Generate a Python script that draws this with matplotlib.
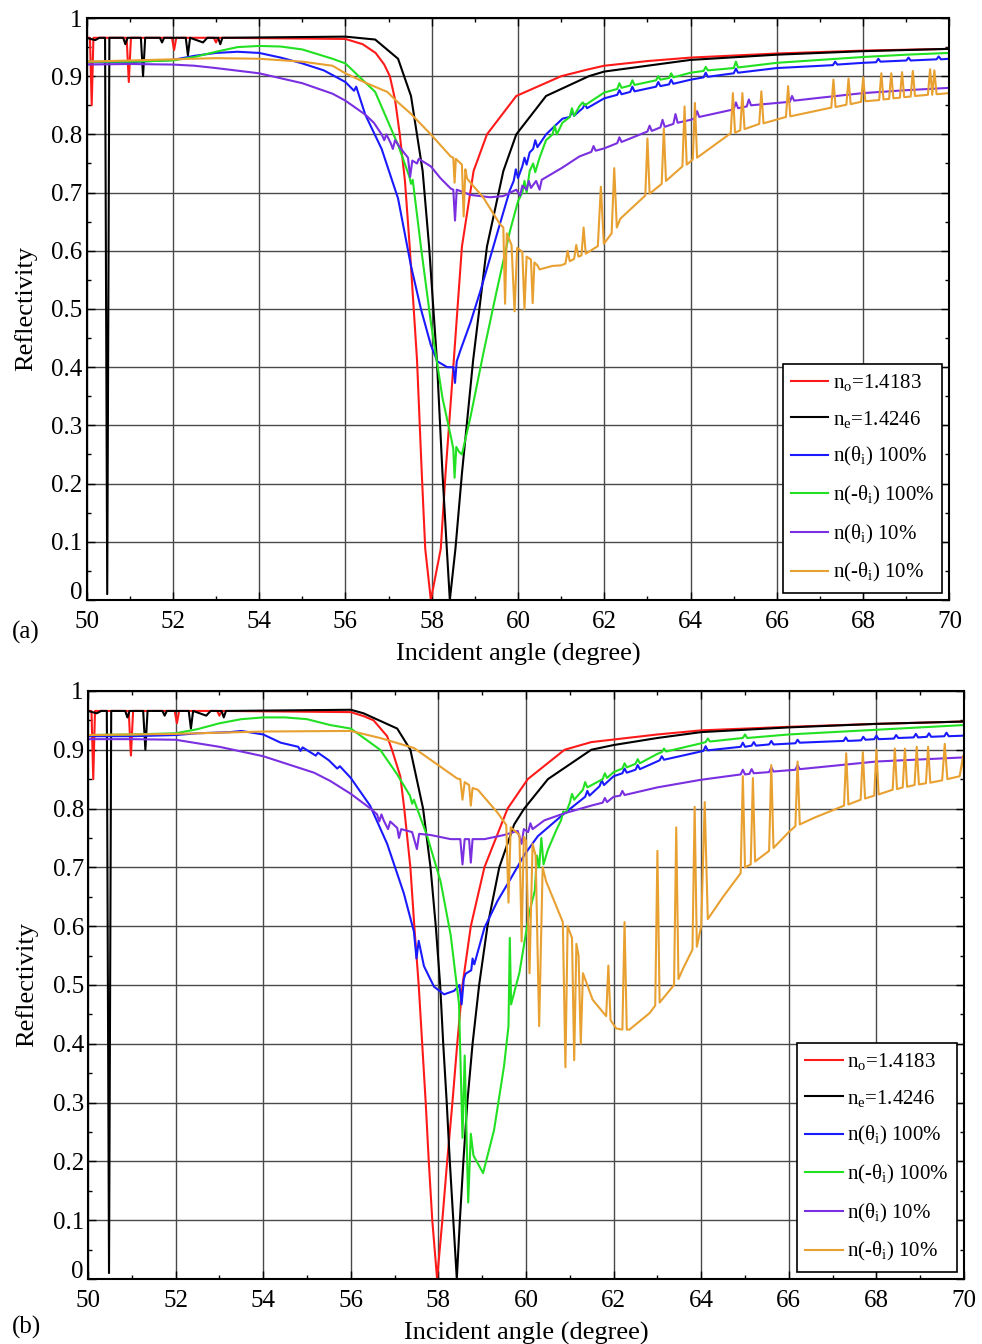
import numpy as np
import matplotlib
matplotlib.use("Agg")
import matplotlib.pyplot as plt
from matplotlib.ticker import MultipleLocator, FixedLocator, FixedFormatter
from matplotlib.transforms import ScaledTranslation

plt.rcParams['font.family'] = 'Liberation Serif'
plt.rcParams['mathtext.fontset'] = 'custom'
plt.rcParams['mathtext.rm'] = 'Liberation Serif'
plt.rcParams['mathtext.it'] = 'Liberation Serif:italic'

# ---- data: (angle in degree, reflectivity) ----
# left edge (50-56 deg) is the same in both panels for n_o and n_e
red_head = [(50.0, 0.966), (50.08, 0.966), (50.12, 0.85), (50.16, 0.966),
            (50.93, 0.966), (50.98, 0.89), (51.03, 0.966),
            (51.98, 0.966), (52.03, 0.945), (52.08, 0.966),
            (52.95, 0.966), (53.0, 0.958), (53.05, 0.966), (56.0, 0.964)]
black_head = [(50.0, 0.966), (50.2, 0.962), (50.3, 0.966), (50.43, 0.966), (50.48, 0.01),
              (50.53, 0.966), (50.85, 0.966), (50.9, 0.955), (50.95, 0.966),
              (51.26, 0.966), (51.31, 0.90), (51.36, 0.966),
              (51.7, 0.966), (51.75, 0.958), (51.8, 0.966),
              (52.3, 0.966), (52.35, 0.936), (52.4, 0.966), (52.55, 0.962),
              (52.7, 0.958), (52.8, 0.966), (53.05, 0.966), (53.1, 0.955),
              (53.15, 0.966), (56.0, 0.968)]

red_a = red_head + [
    (56.4, 0.955), (56.7, 0.94), (56.9, 0.92), (57.03, 0.90), (57.15, 0.86), (57.26, 0.80),
    (57.38, 0.72), (57.49, 0.607), (57.66, 0.412), (57.77, 0.217), (57.85, 0.088),
    (57.98, 0.0), (58.21, 0.088), (58.32, 0.217), (58.51, 0.41), (58.7, 0.607),
    (58.97, 0.737), (59.28, 0.80), (59.96, 0.866), (61.0, 0.90), (61.64, 0.912),
    (62.0, 0.918), (63.0, 0.926), (64.0, 0.932), (66.0, 0.939), (68.0, 0.944), (70.0, 0.947)]
black_a = black_head + [
    (56.69, 0.963), (57.22, 0.93), (57.52, 0.866), (57.79, 0.737), (57.94, 0.607),
    (58.12, 0.412), (58.25, 0.217), (58.35, 0.088), (58.42, 0.0), (58.55, 0.088),
    (58.7, 0.217), (58.96, 0.412), (59.28, 0.607), (59.66, 0.737), (59.96, 0.80),
    (60.65, 0.866), (61.64, 0.90), (62.0, 0.908), (64.0, 0.928), (66.0, 0.937),
    (68.0, 0.943), (70.0, 0.947)]
blue_a = [
    (50.0, 0.924), (51.0, 0.924), (52.0, 0.928), (52.5, 0.935), (53.0, 0.94), (53.5, 0.942),
    (54.0, 0.94), (54.5, 0.932), (55.0, 0.922), (55.5, 0.91), (56.0, 0.89), (56.2, 0.875),
    (56.25, 0.882), (56.46, 0.834), (56.84, 0.775), (57.22, 0.69), (57.52, 0.574),
    (57.75, 0.50), (57.98, 0.438), (58.13, 0.41), (58.36, 0.40), (58.5, 0.40), (58.54, 0.373),
    (58.58, 0.41), (58.67, 0.43), (58.9, 0.477), (59.12, 0.529), (59.35, 0.587),
    (59.58, 0.646), (59.81, 0.704), (59.9, 0.72), (59.95, 0.74), (60.0, 0.725), (60.1, 0.745),
    (60.15, 0.76), (60.2, 0.748), (60.27, 0.769), (60.35, 0.775), (60.4, 0.79), (60.45, 0.778),
    (60.65, 0.80), (61.03, 0.827), (61.2, 0.83), (61.25, 0.84), (61.3, 0.832), (61.42, 0.84),
    (61.5, 0.845), (61.55, 0.852), (61.6, 0.845), (62.0, 0.862), (62.3, 0.868), (62.35, 0.876),
    (62.4, 0.869), (62.6, 0.873), (62.65, 0.882), (62.7, 0.874), (63.2, 0.882), (63.25, 0.89),
    (63.3, 0.883), (63.5, 0.886), (63.55, 0.894), (63.6, 0.887), (64.0, 0.894), (64.3, 0.898),
    (64.35, 0.906), (64.4, 0.899), (65.0, 0.905), (65.05, 0.913), (65.1, 0.906), (66.0, 0.914),
    (67.3, 0.919), (67.35, 0.925), (67.4, 0.92), (68.0, 0.923), (68.3, 0.924), (68.35, 0.93),
    (68.4, 0.925), (69.0, 0.927), (69.05, 0.932), (69.1, 0.927), (69.7, 0.929), (69.75, 0.934),
    (69.8, 0.929), (70.0, 0.93)]
green_a = [
    (50.0, 0.925), (51.0, 0.925), (52.0, 0.927), (52.5, 0.933), (53.0, 0.942), (53.5, 0.95),
    (54.0, 0.952), (54.5, 0.951), (55.0, 0.946), (55.7, 0.93), (56.0, 0.922), (56.69, 0.873),
    (57.22, 0.782), (57.48, 0.728), (57.52, 0.715), (57.56, 0.722), (57.75, 0.607),
    (57.98, 0.477), (58.25, 0.347), (58.44, 0.282), (58.5, 0.26), (58.53, 0.21), (58.57, 0.263),
    (58.63, 0.255), (58.7, 0.25), (58.9, 0.315), (59.2, 0.425), (59.5, 0.529), (59.81, 0.633),
    (60.0, 0.685), (60.1, 0.70), (60.15, 0.72), (60.2, 0.70), (60.27, 0.737), (60.35, 0.75),
    (60.4, 0.735), (60.5, 0.76), (60.65, 0.79), (60.8, 0.80), (60.85, 0.815), (60.9, 0.80),
    (61.03, 0.82), (61.2, 0.83), (61.25, 0.845), (61.3, 0.832), (61.42, 0.848), (61.5, 0.855),
    (61.55, 0.85), (62.0, 0.872), (62.3, 0.878), (62.35, 0.888), (62.4, 0.88), (62.6, 0.884),
    (62.65, 0.893), (62.7, 0.885), (63.2, 0.893), (63.25, 0.90), (63.3, 0.894), (63.5, 0.897),
    (63.55, 0.905), (63.6, 0.898), (64.0, 0.906), (64.3, 0.909), (64.35, 0.916), (64.4, 0.91),
    (65.0, 0.914), (65.05, 0.925), (65.1, 0.915), (66.0, 0.923), (67.0, 0.928), (68.0, 0.933),
    (69.0, 0.937), (70.0, 0.94)]
purple_a = [
    (50.0, 0.92), (51.0, 0.921), (52.0, 0.92), (52.5, 0.918), (53.0, 0.914), (54.0, 0.905),
    (55.0, 0.888), (55.7, 0.87), (56.0, 0.858), (56.46, 0.834), (56.66, 0.82), (56.84, 0.80),
    (56.9, 0.79), (56.95, 0.80), (57.05, 0.785), (57.1, 0.775), (57.15, 0.79), (57.28, 0.776),
    (57.45, 0.76), (57.5, 0.727), (57.55, 0.755), (57.66, 0.75), (57.7, 0.758), (57.98, 0.745),
    (58.2, 0.725), (58.44, 0.707), (58.5, 0.705), (58.54, 0.652), (58.58, 0.705), (58.9, 0.696),
    (59.35, 0.692), (59.66, 0.694), (59.96, 0.705), (60.05, 0.695), (60.1, 0.712), (60.2, 0.705),
    (60.25, 0.72), (60.3, 0.708), (60.42, 0.72), (60.5, 0.705), (60.55, 0.722), (61.03, 0.743),
    (61.42, 0.762), (61.7, 0.77), (61.75, 0.78), (61.8, 0.772), (62.0, 0.776), (62.3, 0.785),
    (62.35, 0.795), (62.4, 0.787), (63.0, 0.805), (63.05, 0.815), (63.1, 0.806), (63.3, 0.812),
    (63.35, 0.825), (63.4, 0.813), (63.6, 0.818), (63.65, 0.835), (63.7, 0.82), (64.0, 0.825),
    (64.1, 0.828), (64.15, 0.84), (64.2, 0.83), (65.0, 0.843), (65.05, 0.855), (65.1, 0.845),
    (65.3, 0.848), (65.35, 0.86), (65.4, 0.85), (66.0, 0.854), (66.3, 0.856), (66.35, 0.866),
    (66.4, 0.858), (67.0, 0.863), (68.0, 0.871), (69.0, 0.876), (70.0, 0.88)]
orange_a = [
    (50.0, 0.925), (51.0, 0.927), (52.0, 0.929), (53.0, 0.931), (54.0, 0.93), (55.0, 0.925),
    (55.7, 0.918), (56.0, 0.905), (56.46, 0.889), (56.97, 0.873), (57.22, 0.855),
    (57.51, 0.836), (57.98, 0.80), (58.44, 0.762), (58.5, 0.76), (58.53, 0.717), (58.56, 0.758),
    (58.7, 0.748), (58.74, 0.659), (58.78, 0.74), (58.82, 0.724), (59.2, 0.691), (59.58, 0.646),
    (59.66, 0.64), (59.7, 0.509), (59.74, 0.63), (59.85, 0.61), (59.92, 0.496), (59.98, 0.605),
    (60.1, 0.598), (60.15, 0.50), (60.2, 0.59), (60.3, 0.585), (60.34, 0.51), (60.38, 0.58),
    (60.45, 0.575), (60.5, 0.568), (60.8, 0.574), (61.0, 0.575), (61.1, 0.578), (61.15, 0.60),
    (61.2, 0.582), (61.3, 0.586), (61.35, 0.61), (61.4, 0.59), (61.47, 0.592), (61.52, 0.64),
    (61.57, 0.595), (61.85, 0.608), (61.92, 0.71), (61.99, 0.612), (62.17, 0.63), (62.23, 0.742),
    (62.29, 0.64), (62.37, 0.655), (62.95, 0.695), (63.0, 0.793), (63.05, 0.698), (63.33, 0.715),
    (63.38, 0.81), (63.43, 0.72), (63.81, 0.745), (63.86, 0.848), (63.91, 0.748), (64.05, 0.757),
    (64.1, 0.854), (64.15, 0.76), (64.93, 0.802), (64.98, 0.871), (65.03, 0.803), (65.15, 0.807),
    (65.2, 0.871), (65.25, 0.809), (65.59, 0.818), (65.64, 0.874), (65.69, 0.819), (66.21, 0.83),
    (66.26, 0.883), (66.31, 0.831), (67.26, 0.846), (67.31, 0.894), (67.36, 0.847),
    (67.61, 0.851), (67.66, 0.896), (67.71, 0.852), (67.95, 0.856), (68.0, 0.898), (68.05, 0.857),
    (68.37, 0.859), (68.42, 0.905), (68.47, 0.86), (68.6, 0.861), (68.65, 0.905), (68.7, 0.862),
    (68.85, 0.863), (68.9, 0.907), (68.95, 0.864), (69.1, 0.865), (69.15, 0.909), (69.2, 0.866),
    (69.5, 0.868), (69.55, 0.912), (69.6, 0.868), (69.65, 0.91), (69.7, 0.869), (70.0, 0.871)]

red_b = red_head + [
    (56.3, 0.957), (56.52, 0.95), (56.83, 0.923), (56.94, 0.90), (57.13, 0.855), (57.22, 0.80),
    (57.36, 0.70), (57.45, 0.60), (57.55, 0.50), (57.63, 0.40), (57.71, 0.30), (57.78, 0.20),
    (57.86, 0.10), (57.97, 0.0), (58.09, 0.10), (58.2, 0.20), (58.32, 0.30), (58.43, 0.40),
    (58.55, 0.50), (58.74, 0.60), (59.05, 0.70), (59.58, 0.80), (60.04, 0.85), (60.88, 0.90),
    (61.49, 0.913), (63.0, 0.926), (64.0, 0.933), (66.0, 0.939), (68.0, 0.944), (70.0, 0.948)]
black_b = black_head + [
    (56.29, 0.962), (57.06, 0.936), (57.36, 0.90), (57.65, 0.80), (57.82, 0.70), (57.94, 0.60),
    (58.04, 0.50), (58.11, 0.40), (58.19, 0.30), (58.26, 0.20), (58.34, 0.10), (58.42, 0.0),
    (58.49, 0.10), (58.57, 0.20), (58.66, 0.30), (58.78, 0.40), (58.93, 0.50), (59.12, 0.60),
    (59.39, 0.70), (59.73, 0.773), (59.96, 0.80), (60.5, 0.85), (61.49, 0.90), (62.0, 0.908),
    (63.0, 0.92), (64.0, 0.93), (66.0, 0.938), (68.0, 0.944), (70.0, 0.948)]
blue_b = [
    (50.0, 0.923), (51.0, 0.923), (52.0, 0.925), (52.5, 0.928), (53.25, 0.93), (53.5, 0.932),
    (54.0, 0.926), (54.4, 0.912), (54.8, 0.905), (54.85, 0.898), (54.9, 0.904), (55.2, 0.89),
    (55.25, 0.895), (55.5, 0.882), (55.69, 0.868), (55.75, 0.872), (56.0, 0.852), (56.44, 0.805),
    (56.83, 0.74), (57.21, 0.656), (57.44, 0.591), (57.5, 0.545), (57.55, 0.575), (57.67, 0.532),
    (57.9, 0.497), (58.13, 0.484), (58.36, 0.49), (58.48, 0.50), (58.53, 0.467), (58.58, 0.51),
    (58.62, 0.519), (58.75, 0.525), (58.78, 0.545), (58.82, 0.535), (59.05, 0.597),
    (59.35, 0.643), (59.66, 0.682), (59.96, 0.721), (60.27, 0.753), (60.88, 0.792),
    (61.35, 0.82), (61.4, 0.83), (61.45, 0.822), (61.68, 0.838), (61.73, 0.848), (61.78, 0.84),
    (62.0, 0.855), (62.2, 0.86), (62.25, 0.868), (62.3, 0.861), (62.5, 0.866), (62.55, 0.874),
    (62.6, 0.867), (63.05, 0.882), (63.1, 0.889), (63.15, 0.883), (64.05, 0.898), (64.1, 0.906),
    (64.15, 0.899), (64.9, 0.905), (64.95, 0.912), (65.0, 0.905), (65.15, 0.907), (65.2, 0.913),
    (65.25, 0.907), (65.55, 0.909), (65.6, 0.915), (65.65, 0.909), (66.15, 0.911), (66.2, 0.917),
    (66.25, 0.912), (67.25, 0.915), (67.3, 0.921), (67.35, 0.915), (67.65, 0.916), (67.7, 0.922),
    (67.75, 0.917), (67.95, 0.918), (68.0, 0.924), (68.05, 0.918), (68.4, 0.919), (68.45, 0.925),
    (68.5, 0.92), (68.85, 0.921), (68.9, 0.927), (68.95, 0.921), (69.15, 0.922), (69.2, 0.928),
    (69.25, 0.922), (69.55, 0.923), (69.6, 0.929), (69.65, 0.923), (70.0, 0.924)]
green_b = [
    (50.0, 0.925), (51.0, 0.926), (52.0, 0.928), (52.5, 0.935), (53.0, 0.945), (53.5, 0.952),
    (54.0, 0.955), (54.5, 0.955), (55.0, 0.952), (55.53, 0.942), (56.0, 0.936), (56.67, 0.90),
    (57.06, 0.858), (57.35, 0.822), (57.4, 0.808), (57.44, 0.815), (57.74, 0.754),
    (58.05, 0.676), (58.28, 0.585), (58.47, 0.468), (58.55, 0.24), (58.6, 0.38), (58.68, 0.13),
    (58.74, 0.247), (58.8, 0.21), (59.02, 0.18), (59.27, 0.253), (59.5, 0.363), (59.6, 0.43),
    (59.63, 0.58), (59.66, 0.467), (59.85, 0.521), (60.08, 0.625), (60.2, 0.66), (60.25, 0.72),
    (60.3, 0.70), (60.35, 0.75), (60.4, 0.705), (60.5, 0.73), (60.69, 0.763), (60.8, 0.78),
    (60.85, 0.795), (60.91, 0.792), (61.0, 0.81), (61.05, 0.825), (61.1, 0.815), (61.3, 0.832),
    (61.35, 0.845), (61.4, 0.836), (61.75, 0.85), (61.8, 0.86), (61.85, 0.852), (62.0, 0.862),
    (62.2, 0.868), (62.25, 0.877), (62.3, 0.87), (62.5, 0.876), (62.55, 0.884), (62.6, 0.877),
    (63.0, 0.893), (63.1, 0.896), (63.15, 0.902), (63.2, 0.897), (64.0, 0.911), (64.1, 0.913),
    (64.15, 0.919), (64.2, 0.914), (64.95, 0.92), (65.0, 0.926), (65.05, 0.92), (66.0, 0.926),
    (68.0, 0.934), (70.0, 0.942)]
purple_b = [
    (50.0, 0.918), (51.0, 0.918), (52.0, 0.917), (53.0, 0.905), (54.0, 0.889), (55.16, 0.861),
    (55.53, 0.847), (56.0, 0.825), (56.45, 0.80), (56.6, 0.79), (56.65, 0.778), (56.7, 0.79),
    (56.75, 0.78), (56.85, 0.765), (56.9, 0.778), (57.06, 0.767), (57.1, 0.75), (57.15, 0.765),
    (57.4, 0.76), (57.51, 0.731), (57.56, 0.757), (57.82, 0.755), (58.28, 0.748), (58.5, 0.748),
    (58.55, 0.705), (58.6, 0.748), (58.7, 0.748), (58.74, 0.708), (58.78, 0.748), (59.05, 0.748),
    (59.5, 0.755), (59.81, 0.762), (59.9, 0.74), (59.95, 0.765), (60.05, 0.76), (60.1, 0.775),
    (60.15, 0.765), (60.42, 0.78), (60.88, 0.792), (61.49, 0.805), (61.75, 0.81), (61.8, 0.818),
    (61.85, 0.811), (62.0, 0.82), (62.15, 0.822), (62.2, 0.83), (62.25, 0.823), (63.0, 0.836),
    (64.0, 0.849), (64.9, 0.858), (64.95, 0.866), (65.0, 0.858), (65.1, 0.859), (65.15, 0.867),
    (65.2, 0.86), (65.55, 0.862), (65.6, 0.87), (65.65, 0.863), (66.15, 0.866), (66.2, 0.874),
    (66.25, 0.867), (68.0, 0.88), (70.0, 0.887)]
orange_b = [
    (50.0, 0.925), (52.0, 0.927), (54.0, 0.931), (56.0, 0.932), (56.67, 0.92), (57.44, 0.903),
    (58.05, 0.871), (58.43, 0.851), (58.5, 0.85), (58.55, 0.815), (58.6, 0.845), (58.7, 0.84),
    (58.74, 0.805), (58.78, 0.835), (58.9, 0.832), (59.35, 0.793), (59.55, 0.772), (59.6, 0.64),
    (59.65, 0.768), (59.85, 0.755), (59.9, 0.574), (59.95, 0.752), (60.0, 0.745), (60.08, 0.52),
    (60.15, 0.74), (60.22, 0.72), (60.3, 0.43), (60.38, 0.70), (60.46, 0.676), (60.84, 0.607),
    (60.9, 0.36), (60.95, 0.60), (61.05, 0.58), (61.1, 0.372), (61.15, 0.57), (61.2, 0.55),
    (61.25, 0.40), (61.3, 0.52), (61.52, 0.475), (61.83, 0.447), (61.88, 0.533), (61.93, 0.44),
    (62.06, 0.426), (62.2, 0.424), (62.25, 0.607), (62.3, 0.424), (62.36, 0.424), (62.82, 0.452),
    (62.95, 0.465), (63.0, 0.728), (63.05, 0.47), (63.38, 0.50), (63.43, 0.768), (63.48, 0.51),
    (63.58, 0.527), (63.8, 0.56), (63.85, 0.803), (63.9, 0.565), (64.0, 0.60), (64.08, 0.811),
    (64.15, 0.612), (64.5, 0.65), (64.9, 0.69), (64.95, 0.855), (65.0, 0.70), (65.13, 0.705),
    (65.18, 0.852), (65.23, 0.71), (65.55, 0.728), (65.6, 0.874), (65.65, 0.733), (66.0, 0.76),
    (66.15, 0.77), (66.2, 0.88), (66.25, 0.773), (66.6, 0.785), (67.0, 0.797), (67.26, 0.805),
    (67.31, 0.894), (67.36, 0.807), (67.64, 0.815), (67.69, 0.896), (67.74, 0.817),
    (67.95, 0.822), (68.0, 0.90), (68.05, 0.824), (68.37, 0.832), (68.42, 0.902), (68.47, 0.833),
    (68.6, 0.836), (68.65, 0.902), (68.7, 0.837), (68.87, 0.84), (68.92, 0.905), (68.97, 0.841),
    (69.13, 0.843), (69.18, 0.905), (69.23, 0.844), (69.5, 0.848), (69.56, 0.91), (69.62, 0.85),
    (69.9, 0.855), (69.98, 0.89), (70.0, 0.86)]

labels = ['n$_\\mathrm{o}$=1.4183', 'n$_\\mathrm{e}$=1.4246', 'n(θ$_\\mathrm{i}$) 100%',
          'n(-θ$_\\mathrm{i}$) 100%', 'n(θ$_\\mathrm{i}$) 10%', 'n(-θ$_\\mathrm{i}$) 10%']
colors = ['#ff1a1a', '#000000', '#1a1aff', '#22e022', '#7a2fe0', '#e8a030']
xticks = list(range(50, 71, 2))
yticks = [0, 0.1, 0.2, 0.3, 0.4, 0.5, 0.6, 0.7, 0.8, 0.9, 1]
yticklabels = ['0', '0.1', '0.2', '0.3', '0.4', '0.5', '0.6', '0.7', '0.8', '0.9', '1']


def draw_panel(ax, series):
    for pts, color, label in zip(series, colors, labels):
        x, y = zip(*pts)
        ax.plot(x, y, color=color, lw=1.5, label=label)
    ax.set_xlim(50, 70)
    ax.set_ylim(0, 1)
    ax.xaxis.set_major_locator(FixedLocator(xticks))
    ax.xaxis.set_minor_locator(MultipleLocator(1))
    ax.yaxis.set_major_locator(FixedLocator(yticks))
    ax.yaxis.set_major_formatter(FixedFormatter(yticklabels))
    ax.yaxis.set_minor_locator(MultipleLocator(0.05))
    ax.grid(True, which='major', color='#4a4a4a', lw=1.0)
    ax.set_axisbelow(True)
    ax.tick_params(which='both', direction='in', top=True, right=True, labelsize=18)
    ax.tick_params(which='major', length=6, width=1.0)
    ax.tick_params(axis='x', which='major', pad=8)
    ax.tick_params(axis='y', which='major', pad=3)
    ax.tick_params(which='minor', length=3, width=1.0)
    for sp in ax.spines.values():
        sp.set_linewidth(1.5)
    ax.set_xlabel('Incident angle (degree)', fontsize=19, labelpad=7)
    ax.set_ylabel('Reflectivity', fontsize=19, labelpad=10)
    leg = ax.legend(loc='lower right', fontsize=15, frameon=True, fancybox=False,
                    edgecolor='black', framealpha=1, handlelength=1.8, handletextpad=0.2,
                    labelspacing=0.75, borderpad=0.4, borderaxespad=0.35)
    leg.get_frame().set_linewidth(1.2)
    # lift the "0" label a little so it clears the "50" below it
    zero = ax.yaxis.get_major_ticks()[0].label1
    zero.set_transform(zero.get_transform() + ScaledTranslation(0, 7 / 72, fig.dpi_scale_trans))


fig = plt.figure(figsize=(9.82, 13.44), dpi=100)
ax1 = fig.add_axes([0.0881, 0.5536, 0.8788, 0.4330])
ax2 = fig.add_axes([0.0896, 0.0484, 0.8921, 0.4375])
draw_panel(ax1, [red_a, black_a, blue_a, green_a, purple_a, orange_a])
draw_panel(ax2, [red_b, black_b, blue_b, green_b, purple_b, orange_b])
fig.text(0.012, 0.525, '(a)', fontsize=18)
fig.text(0.012, 0.008, '(b)', fontsize=18)

fig.savefig('out.png', dpi=100)
